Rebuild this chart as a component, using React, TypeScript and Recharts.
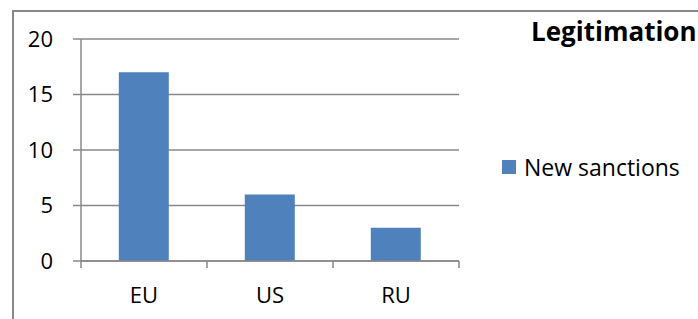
import { BarChart, Bar, XAxis, YAxis, CartesianGrid } from 'recharts'

const CATEGORIES = ['EU', 'US', 'RU']
const NEW_SANCTIONS = [17, 6, 3]
const Y_TICKS = [0, 5, 10, 15, 20]
const SERIES_NAME = 'New sanctions'
const TITLE = 'Legitimation'

const W = 698
const H = 319
const MARGIN = { top: 39, right: 239, bottom: 0, left: 0 }
const Y_AXIS_W = 81
const X_AXIS_H = 58
const GRAY = '#888888'
const BLUE = '#4f81bd'
const FONT = '"Open Sans", "Noto Sans", sans-serif'

const data = CATEGORIES.map((name, i) => ({ name, value: NEW_SANCTIONS[i] }))
const BAND = (W - MARGIN.left - MARGIN.right - Y_AXIS_W) / CATEGORIES.length

// ticks sit on the category boundaries, like Excel does it
function XTick(props: any) {
  const { x, y, payload, index } = props
  const half = payload?.offset || BAND / 2
  return (
    <g>
      <line x1={x - half} x2={x - half} y1={y - 7} y2={y} stroke={GRAY} strokeWidth={1.5} />
      {index === CATEGORIES.length - 1 && (
        <line x1={x + half} x2={x + half} y1={y - 7} y2={y} stroke={GRAY} strokeWidth={1.5} />
      )}
      <text x={x} y={y + 35} textAnchor="middle" fill="#000" fontSize={22} fontFamily={FONT}>
        {payload.value}
      </text>
    </g>
  )
}

export default function App() {
  return (
    <div style={{ position: 'absolute', left: 0, top: 0, width: W, height: H, overflow: 'hidden', background: '#fff' }}>
      <div
        style={{
          position: 'absolute',
          left: 12,
          top: 10,
          width: 760,
          height: 360,
          border: `2px solid ${GRAY}`,
          boxSizing: 'border-box',
        }}
      />
      <div
        style={{
          position: 'absolute',
          left: 531,
          top: 13,
          fontFamily: FONT,
          fontWeight: 700,
          fontSize: 26,
          whiteSpace: 'nowrap',
          color: '#000',
        }}
      >
        {TITLE}
      </div>
      <div
        style={{
          position: 'absolute',
          left: 502,
          top: 151,
          display: 'flex',
          alignItems: 'center',
          fontFamily: FONT,
          fontSize: 23,
          color: '#000',
          whiteSpace: 'nowrap',
        }}
      >
        <span style={{ width: 14, height: 14, background: BLUE, marginRight: 8, display: 'inline-block' }} />
        <span>{SERIES_NAME}</span>
      </div>
      <div style={{ position: 'absolute', left: 0, top: 0 }}>
        <BarChart width={W} height={H} data={data} margin={MARGIN} barCategoryGap="30%">
          <CartesianGrid vertical={false} stroke={GRAY} strokeWidth={1.5} />
          <XAxis
            dataKey="name"
            height={X_AXIS_H}
            stroke={GRAY}
            strokeWidth={1.5}
            tickLine={false}
            tickSize={7}
            tickMargin={0}
            tick={<XTick />}
            interval={0}
          />
          <YAxis
            width={Y_AXIS_W}
            domain={[0, 20]}
            ticks={Y_TICKS}
            stroke={GRAY}
            strokeWidth={1.5}
            tickSize={8}
            tickMargin={20}
            tick={{ fill: '#000', fontSize: 22, fontFamily: FONT }}
          />
          <Bar dataKey="value" name={SERIES_NAME} fill={BLUE} isAnimationActive={false} />
        </BarChart>
      </div>
    </div>
  )
}
